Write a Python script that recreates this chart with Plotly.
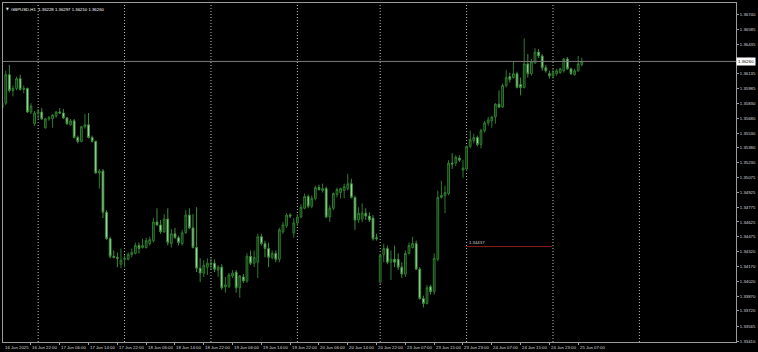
import pandas as pd
import plotly.graph_objects as go

symbol = "GBPUSD,H1"
# OHLC of H1 candles (16 Jun 2025 14:00 -> 25 Jun 2025 08:00)
open_ = [1.35785,1.35835,1.36125,1.35965,1.35985,1.36085,1.35975,1.35985,1.35745,1.35625,
         1.35735,1.35745,1.35585,1.35675,1.35675,1.35705,1.35745,1.35735,1.35685,1.35615,
         1.35655,1.35485,1.35445,1.35595,1.35615,1.35485,1.35445,1.35125,1.35145,1.34725,
         1.34455,1.34275,1.34265,1.34195,1.34245,1.34245,1.34295,1.34305,1.34385,1.34365,
         1.34365,1.34405,1.34435,1.34625,1.34595,1.34525,1.34655,1.34405,1.34505,1.34465,
         1.34405,1.34515,1.34695,1.34565,1.34365,1.34155,1.34105,1.34165,1.34205,1.34205,
         1.34135,1.34165,1.33965,1.33965,1.34075,1.34115,1.33955,1.34065,1.34025,1.34275,
         1.34205,1.34215,1.34475,1.34405,1.34355,1.34265,1.34305,1.34245,1.34525,1.34585,
         1.34695,1.34515,1.34615,1.34675,1.34765,1.34885,1.34785,1.34865,1.34975,1.34945,
         1.34965,1.34675,1.34765,1.34905,1.34925,1.34945,1.34965,1.35015,1.34875,1.34645,
         1.34655,1.34715,1.34685,1.34665,1.34465,1.34015,1.34295,1.34355,1.34215,1.34245,
         1.34245,1.34165,1.34095,1.34305,1.34365,1.34405,1.34145,1.33845,1.33795,1.33965,
         1.33915,1.34245,1.34875,1.34895,1.34915,1.35225,1.35225,1.35275,1.35155,1.35165,
         1.35395,1.35455,1.35485,1.35415,1.35555,1.35635,1.35655,1.35695,1.35825,1.35795,
         1.36015,1.36105,1.36095,1.36135,1.36025,1.35995,1.36235,1.36135,1.36245,1.36355,
         1.36315,1.36195,1.36135,1.36115,1.36135,1.36145,1.36165,1.36285,1.36185,1.36125,
         1.36165,1.36228]
high = [1.35885,1.36165,1.36225,1.36015,1.36105,1.36125,1.36015,1.35995,1.35835,1.35755,
        1.35775,1.35785,1.35685,1.35705,1.35725,1.35755,1.35785,1.35775,1.35695,1.35675,
        1.35675,1.35505,1.35605,1.35725,1.35735,1.35505,1.35455,1.35165,1.35165,1.34745,
        1.34475,1.34335,1.34315,1.34355,1.34285,1.34315,1.34355,1.34415,1.34415,1.34455,
        1.34465,1.34475,1.34665,1.34765,1.34645,1.34705,1.34765,1.34555,1.34565,1.34485,
        1.34545,1.34745,1.34765,1.34705,1.34775,1.34255,1.34235,1.34255,1.34255,1.34245,
        1.34185,1.34195,1.34065,1.34105,1.34135,1.34135,1.34085,1.34095,1.34305,1.34335,
        1.34335,1.34505,1.34505,1.34435,1.34415,1.34335,1.34335,1.34565,1.34625,1.34715,
        1.34715,1.34665,1.34705,1.34805,1.34915,1.34905,1.34895,1.34995,1.35005,1.35015,
        1.34985,1.34795,1.34925,1.34975,1.34975,1.35015,1.35115,1.35065,1.34895,1.34775,
        1.34815,1.34765,1.34725,1.34695,1.34505,1.34305,1.34405,1.34385,1.34335,1.34385,
        1.34305,1.34215,1.34335,1.34415,1.34475,1.34435,1.34165,1.33875,1.33985,1.33985,
        1.34305,1.34945,1.35045,1.34995,1.35255,1.35325,1.35305,1.35305,1.35255,1.35405,
        1.35555,1.35525,1.35505,1.35575,1.35655,1.35695,1.35705,1.35835,1.35965,1.36035,
        1.36175,1.36145,1.36265,1.36155,1.36095,1.36495,1.36335,1.36285,1.36395,1.36385,
        1.36335,1.36225,1.36165,1.36185,1.36185,1.36195,1.36295,1.36305,1.36195,1.36185,
        1.36315,1.36297]
low = [1.35755,1.35815,1.35945,1.35905,1.35965,1.35965,1.35935,1.35735,1.35725,1.35605,
       1.35675,1.35665,1.35575,1.35655,1.35585,1.35685,1.35725,1.35675,1.35615,1.35605,
       1.35475,1.35425,1.35435,1.35575,1.35475,1.35435,1.35115,1.34965,1.34665,1.34445,
       1.34255,1.34255,1.34165,1.34155,1.34165,1.34235,1.34265,1.34295,1.34305,1.34355,
       1.34355,1.34385,1.34415,1.34585,1.34505,1.34515,1.34385,1.34365,1.34455,1.34385,
       1.34385,1.34505,1.34555,1.34355,1.34115,1.34015,1.34065,1.34085,1.34135,1.34115,
       1.34065,1.33935,1.33905,1.33955,1.34055,1.33905,1.33855,1.34005,1.34005,1.34185,
       1.34165,1.34055,1.34385,1.34265,1.34165,1.34245,1.34215,1.34215,1.34505,1.34565,
       1.34665,1.34465,1.34585,1.34665,1.34755,1.34765,1.34765,1.34845,1.34945,1.34925,
       1.34665,1.34625,1.34745,1.34875,1.34865,1.34865,1.34945,1.34865,1.34545,1.34615,
       1.34625,1.34645,1.34625,1.34435,1.34435,1.33995,1.34215,1.34195,1.34035,1.34165,
       1.34135,1.34055,1.34065,1.34295,1.34355,1.34135,1.33835,1.33755,1.33785,1.33885,
       1.33885,1.34225,1.34865,1.34715,1.34895,1.35165,1.35195,1.35235,1.35075,1.35145,
       1.35375,1.35425,1.35395,1.35375,1.35535,1.35605,1.35585,1.35625,1.35785,1.35785,
       1.35995,1.36045,1.36085,1.35985,1.35915,1.35985,1.36095,1.36115,1.36235,1.36295,
       1.36165,1.36145,1.36085,1.36085,1.36115,1.36135,1.36145,1.36175,1.36125,1.36115,
       1.36155,1.36210]
close = [1.35835,1.36125,1.35965,1.35985,1.36085,1.35975,1.35985,1.35745,1.35805,1.35735,
         1.35745,1.35675,1.35675,1.35685,1.35715,1.35745,1.35735,1.35685,1.35625,1.35655,
         1.35485,1.35445,1.35595,1.35615,1.35485,1.35445,1.35125,1.35145,1.34725,1.34455,
         1.34275,1.34265,1.34255,1.34235,1.34255,1.34295,1.34315,1.34385,1.34355,1.34385,
         1.34435,1.34445,1.34625,1.34595,1.34525,1.34655,1.34415,1.34505,1.34465,1.34415,
         1.34515,1.34695,1.34565,1.34365,1.34155,1.34105,1.34185,1.34205,1.34195,1.34145,
         1.34165,1.33955,1.33985,1.34085,1.34105,1.33955,1.34075,1.34025,1.34275,1.34205,
         1.34265,1.34475,1.34405,1.34355,1.34265,1.34305,1.34245,1.34545,1.34595,1.34695,
         1.34685,1.34615,1.34675,1.34775,1.34885,1.34785,1.34865,1.34975,1.34955,1.34965,
         1.34675,1.34765,1.34915,1.34955,1.34965,1.34985,1.35015,1.34875,1.34645,1.34715,
         1.34715,1.34685,1.34645,1.34455,1.34455,1.34285,1.34355,1.34215,1.34245,1.34215,
         1.34165,1.34095,1.34305,1.34385,1.34405,1.34145,1.33845,1.33795,1.33955,1.33915,
         1.34255,1.34875,1.34895,1.34925,1.35225,1.35215,1.35285,1.35255,1.35175,1.35395,
         1.35465,1.35485,1.35415,1.35555,1.35635,1.35665,1.35695,1.35825,1.35795,1.36015,
         1.36095,1.36075,1.36135,1.35995,1.35995,1.36235,1.36135,1.36255,1.36355,1.36315,
         1.36195,1.36165,1.36115,1.36145,1.36165,1.36185,1.36285,1.36185,1.36135,1.36165,
         1.36235,1.36260]

# visible price-scale labels (the 1.36285 one is hidden behind the bid label)
y_ticks = [1.36740, 1.36585, 1.36435, 1.36135, 1.35985, 1.35830, 1.35680,
           1.35530, 1.35380, 1.35230, 1.35075, 1.34925, 1.34775, 1.34625, 1.34475,
           1.34320, 1.34170, 1.34020, 1.33870, 1.33720, 1.33565, 1.33410]

level_line = 1.34375
level_text = "1.34437"
level_start = "2025-06-24 00:00"
level_end = "2025-06-24 23:00"

# bar times (server time, weekend and Friday 23:00 absent)
times = [t for t in pd.date_range("2025-06-16 14:00", "2025-06-25 08:00", freq="h")
         if t.weekday() < 5 and not (t.weekday() == 4 and t.hour == 23)]
idx = {t.strftime("%Y-%m-%d %H:%M"): i for i, t in enumerate(times)}
x = list(range(len(times)))

X_RANGE = [0.235, 203.83]

label_idx = list(range(0, len(times), 8))
label_txt = [times[i].strftime("%d %b %Y") if i == 0 else times[i].strftime("%d %b %H:%M")
             for i in label_idx]
day_starts = [i for i, t in enumerate(times) if t.hour == 0]
day_starts.append(day_starts[-1] + 24)

FONT = "Liberation Sans, Arial, sans-serif"
FS = 4.3
TXT = "#d8d8d8"
FRAME = "#9a9a9a"

fig = go.Figure(go.Candlestick(
    x=x, open=open_, high=high, low=low, close=close,
    increasing=dict(line=dict(color="#2f7a2f", width=1), fillcolor="#0c2c0c"),
    decreasing=dict(line=dict(color="#3d8d3d", width=1), fillcolor="#b8eab8"),
    whiskerwidth=0, hoverinfo="skip"))

shapes = []
for d in day_starts:
    shapes.append(dict(type="line", xref="x", yref="paper", x0=d, x1=d, y0=0, y1=1,
                       line=dict(color="#b8b8b8", width=1, dash="1px,2px"), layer="below"))
shapes.append(dict(type="line", xref="paper", yref="y", x0=0, x1=1, y0=close[-1], y1=close[-1],
                   line=dict(color="#7c7c7c", width=1)))
shapes.append(dict(type="line", xref="x", yref="y", x0=idx[level_start], x1=idx[level_end] + 0.7,
                   y0=level_line, y1=level_line, line=dict(color="#8a1c1c", width=1)))

ann = []
for i, t in zip(label_idx, label_txt):
    ann.append(dict(x=max(i, X_RANGE[0]), y=0, xref="x", yref="paper", text=t, showarrow=False,
                    xanchor="left", yanchor="top", yshift=-1, xshift=-0.5,
                    font=dict(family=FONT, size=FS, color=TXT)))
ann.append(dict(x=0, y=1, xref="paper", yref="paper", text="▼", showarrow=False,
                xanchor="left", yanchor="top", xshift=1, yshift=-2,
                font=dict(family="DejaVu Sans", size=3.5, color="#ffffff")))
ann.append(dict(x=0, y=1, xref="paper", yref="paper",
                text=f"{symbol}  {open_[-1]:.5f} {high[-1]:.5f} {low[-1]:.5f} {close[-1]:.5f}",
                showarrow=False, xanchor="left", yanchor="top", xshift=6, yshift=-2,
                font=dict(family=FONT, size=FS, color="#ffffff")))
ann.append(dict(x=1, y=close[-1], xref="paper", yref="y", text=f"{close[-1]:.5f}",
                showarrow=False, xanchor="left", yanchor="middle", xshift=0,
                bgcolor="#ffffff", borderpad=1,
                font=dict(family=FONT, size=FS, color="#000000")))
ann.append(dict(x=idx[level_start], y=level_line, xref="x", yref="y", text=level_text,
                showarrow=False, xanchor="left", yanchor="bottom", xshift=0, yshift=0,
                font=dict(family=FONT, size=FS, color="#c8c8c8")))

fig.update_layout(
    width=758, height=352,
    margin=dict(l=2, r=20, t=2, b=10),
    paper_bgcolor="#000000", plot_bgcolor="#000000",
    showlegend=False, shapes=shapes, annotations=ann,
    xaxis=dict(range=X_RANGE, showgrid=False, zeroline=False,
               rangeslider=dict(visible=False), showline=True, mirror=True,
               linecolor=FRAME, linewidth=1, tickvals=label_idx, ticks="outside",
               ticklen=2, tickcolor=FRAME, showticklabels=False),
    yaxis=dict(range=[1.33403, 1.36855], side="right", showgrid=False, zeroline=False,
               showline=True, mirror=True, linecolor=FRAME, linewidth=1,
               tickvals=y_ticks, ticktext=[f"{v:.5f}" for v in y_ticks],
               ticks="outside", ticklen=2, tickcolor=FRAME,
               tickfont=dict(family=FONT, size=FS, color=TXT)),
)

fig.write_html("out.html")
